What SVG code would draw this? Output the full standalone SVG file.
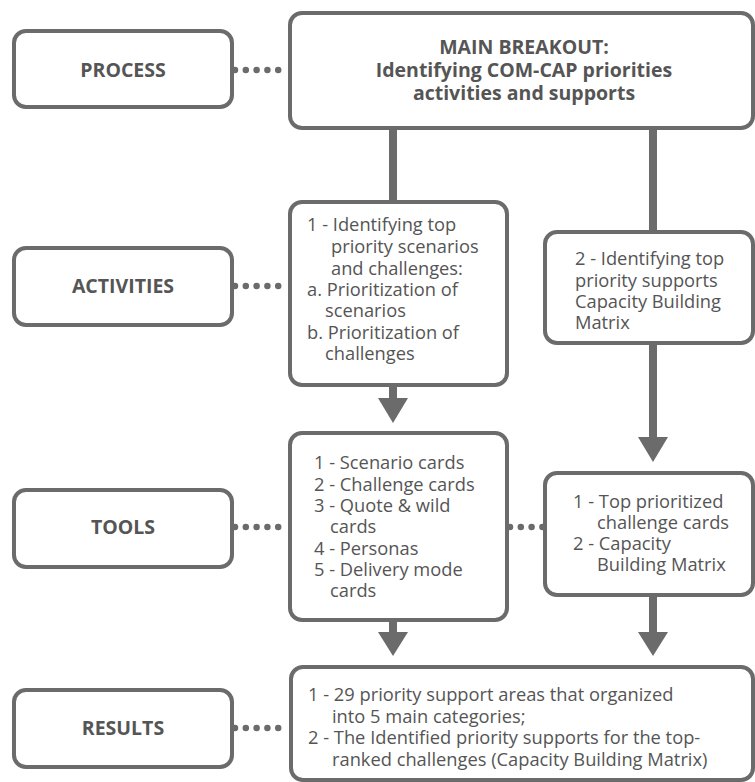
<svg xmlns="http://www.w3.org/2000/svg" width="755" height="782" viewBox="0 0 755 782">
<style>
.box{fill:#fff;stroke:#6b6b6b;stroke-width:4}
.lbl{font-family:"Open Sans","Liberation Sans",sans-serif;font-weight:bold;font-size:19.5px;fill:#555;text-anchor:middle}
.txt{font-family:"Open Sans","Liberation Sans",sans-serif;font-size:18.3px;fill:#555}
.dot{stroke:#6b6b6b;stroke-width:6.5;stroke-linecap:round;stroke-dasharray:0 10.8;fill:none}
.ln{stroke:#6b6b6b;stroke-width:8;fill:none}
.ah{fill:#6b6b6b}
</style>
<g id="connectors">
<line class="dot" x1="235" y1="70" x2="289" y2="70"/>
<line class="dot" x1="235" y1="286" x2="289" y2="286"/>
<line class="dot" x1="235" y1="527" x2="289" y2="527"/>
<line class="dot" x1="510" y1="527" x2="544" y2="527"/>
<line class="dot" x1="235" y1="728" x2="289" y2="728"/>
<line class="ln" x1="393" y1="128" x2="393" y2="202"/>
<line class="ln" x1="653" y1="128" x2="653" y2="232"/>
<line class="ln" x1="393" y1="385" x2="393" y2="400"/>
<polygon class="ah" points="378,398 408,398 393,423"/>
<line class="ln" x1="653" y1="343" x2="653" y2="440"/>
<polygon class="ah" points="638,437 668,437 653,462"/>
<line class="ln" x1="393" y1="620" x2="393" y2="635"/>
<polygon class="ah" points="378,632 408,632 393,656"/>
<line class="ln" x1="653" y1="595" x2="653" y2="635"/>
<polygon class="ah" points="638,632 668,632 653,656"/>
</g>
<g id="process">
<rect class="box" x="14" y="31" width="218" height="76" rx="12"/>
<text class="lbl" x="123" y="77">PROCESS</text>
</g>
<g id="main">
<rect class="box" x="290" y="13" width="463" height="115" rx="12"/>
<text class="lbl" x="524" y="54">MAIN BREAKOUT:</text>
<text class="lbl" x="524" y="77">Identifying COM-CAP priorities</text>
<text class="lbl" x="524" y="100">activities and supports</text>
</g>
<g id="activities">
<rect class="box" x="14" y="248" width="218" height="77" rx="12"/>
<text class="lbl" x="123" y="293">ACTIVITIES</text>
</g>
<g id="act1">
<rect class="box" x="290" y="202" width="217" height="183" rx="12"/>
<text class="txt" x="307" y="231">1 - Identifying top</text>
<text class="txt" x="331" y="253">priority scenarios</text>
<text class="txt" x="331" y="275">and challenges:</text>
<text class="txt" x="307" y="296">a. Prioritization of</text>
<text class="txt" x="325" y="317">scenarios</text>
<text class="txt" x="307" y="339">b. Prioritization of</text>
<text class="txt" x="325" y="360">challenges</text>
</g>
<g id="act2">
<rect class="box" x="545" y="232" width="208" height="111" rx="12"/>
<text class="txt" x="575" y="265">2 - Identifying top</text>
<text class="txt" x="575" y="287">priority supports</text>
<text class="txt" x="575" y="308">Capacity Building</text>
<text class="txt" x="575" y="329">Matrix</text>
</g>
<g id="tools">
<rect class="box" x="14" y="490" width="218" height="77" rx="12"/>
<text class="lbl" x="123" y="534">TOOLS</text>
</g>
<g id="tool1">
<rect class="box" x="290" y="433" width="217" height="187" rx="12"/>
<text class="txt" x="314" y="469">1 - Scenario cards</text>
<text class="txt" x="314" y="491">2 - Challenge cards</text>
<text class="txt" x="314" y="512">3 - Quote &amp; wild</text>
<text class="txt" x="330" y="533">cards</text>
<text class="txt" x="314" y="555">4 - Personas</text>
<text class="txt" x="314" y="576">5 - Delivery mode</text>
<text class="txt" x="330" y="597">cards</text>
</g>
<g id="tool2">
<rect class="box" x="545" y="473" width="208" height="122" rx="12"/>
<text class="txt" x="573" y="508">1 - Top prioritized</text>
<text class="txt" x="597" y="529">challenge cards</text>
<text class="txt" x="573" y="550">2 - Capacity</text>
<text class="txt" x="597" y="571">Building Matrix</text>
</g>
<g id="results">
<rect class="box" x="14" y="690" width="218" height="77" rx="12"/>
<text class="lbl" x="123" y="735">RESULTS</text>
</g>
<g id="result1">
<rect class="box" x="291" y="667" width="462" height="113" rx="12"/>
<text class="txt" x="308" y="701">1 - 29 priority support areas that organized</text>
<text class="txt" x="332" y="723">into 5 main categories;</text>
<text class="txt" x="308" y="744">2 - The Identified priority supports for the top-</text>
<text class="txt" x="332" y="766">ranked challenges (Capacity Building Matrix)</text>
</g>
</svg>
